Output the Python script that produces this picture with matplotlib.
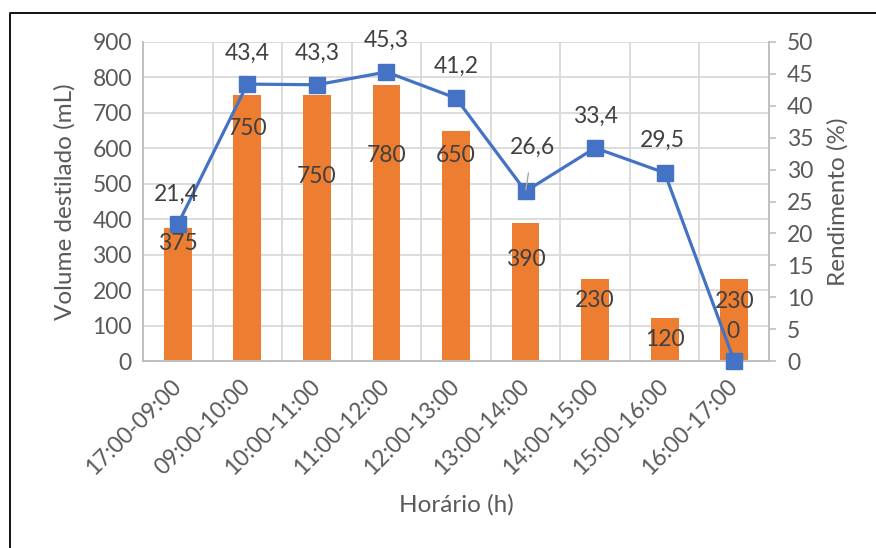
import numpy as np
import matplotlib.pyplot as plt
from matplotlib.lines import Line2D

horarios = ["17:00-09:00", "09:00-10:00", "10:00-11:00", "11:00-12:00", "12:00-13:00",
            "13:00-14:00", "14:00-15:00", "15:00-16:00", "16:00-17:00"]
volume = [375, 750, 750, 780, 650, 390, 230, 120, 230]
rendimento = [21.4, 43.4, 43.3, 45.3, 41.2, 26.6, 33.4, 29.5, 0]

# label placement (pixels, as Excel left them)
bar_lbl_dy = [15, 33, 81, 71, 25, 37, 21.5, 21.5, 22.5]
line_lbl_dy = [30, 31, 31, 32, 32, 44, 32, 32, 30]
line_lbl_dx = [-1, 0, 0, 0, 0, 7, 0, -2, -1]

plt.rcParams['font.family'] = ['Lato', 'DejaVu Sans']
orange = '#ED7D31'
blue = '#4472C4'
txt = '#404040'
tick_c = '#595959'
grid_c = '#D9D9D9'
axis_c = '#BFBFBF'
fs = 16.5
fs_title = 17.5
px = 0.72

fig = plt.figure(figsize=(8.76, 5.48), dpi=100)
ax = fig.add_axes([143 / 876, 1 - 361 / 548, (769 - 143) / 876, (361 - 42) / 548])
ax2 = ax.twinx()

x = np.arange(len(horarios))
ax.bar(x, volume, width=0.4, color=orange, zorder=2)
ax.set_xlim(-0.5, len(horarios) - 0.5)
ax.set_ylim(0, 900)
ax.set_yticks(np.arange(0, 901, 100))
ax.set_xticks(x)
ax.set_xticks(x[:-1] + 0.5, minor=True)
ax.set_xticklabels(horarios, rotation=45, ha='right', va='center', rotation_mode='anchor',
                   fontsize=fs, color=tick_c)
ax.tick_params(axis='x', which='both', length=0, pad=16)
ax.tick_params(axis='y', length=0, labelsize=fs, labelcolor=tick_c, pad=8)
ax.grid(axis='y', color=grid_c, linewidth=1.3)
ax.grid(axis='x', which='minor', color=grid_c, linewidth=1.3)
ax.set_axisbelow(True)

ax2.plot(x, rendimento, color=blue, linewidth=2.3, marker='s', markersize=11, zorder=3,
         clip_on=False)
ax2.set_ylim(0, 50)
ax2.set_yticks(np.arange(0, 51, 5))
ax2.tick_params(axis='y', length=5, width=1.2, color=axis_c, labelsize=fs, labelcolor=tick_c, pad=8)

for a in (ax, ax2):
    a.spines['top'].set_visible(False)
    for s in ('left', 'right', 'bottom'):
        a.spines[s].set_color(axis_c)
        a.spines[s].set_linewidth(1.2)

ax.set_xlabel("Horário (h)", fontsize=fs_title, color=tick_c, labelpad=11)
ax.set_ylabel("Volume destilado (mL)", fontsize=fs_title, color=tick_c, labelpad=12)
ax2.set_ylabel("Rendimento (%)", fontsize=fs_title, color=tick_c, labelpad=10)

for i, v in enumerate(volume):
    ax.annotate(str(v), (x[i], v), xytext=(0, -bar_lbl_dy[i] * px), textcoords='offset points',
                ha='center', va='center', fontsize=fs, color=txt, zorder=5)

for i, r in enumerate(rendimento):
    lbl = ("%.1f" % r).replace('.', ',') if r != 0 else "0"
    kw = {}
    if i == 5:
        kw['arrowprops'] = dict(arrowstyle='-', color='#A6A6A6', lw=1, shrinkA=9, shrinkB=1)
    ax2.annotate(lbl, (x[i], r), xytext=(line_lbl_dx[i] * px, line_lbl_dy[i] * px),
                 textcoords='offset points', ha='center', va='center', fontsize=fs,
                 color=txt, zorder=5, **kw)

# chart-area frame (clipped at right and bottom in the original)
fx = 10 / 876
fy = 1 - 13 / 548
fig.add_artist(Line2D([fx, fx, 1], [0, fy, fy], transform=fig.transFigure, color='black', linewidth=1.3))

fig.savefig("out.png", dpi=100)
